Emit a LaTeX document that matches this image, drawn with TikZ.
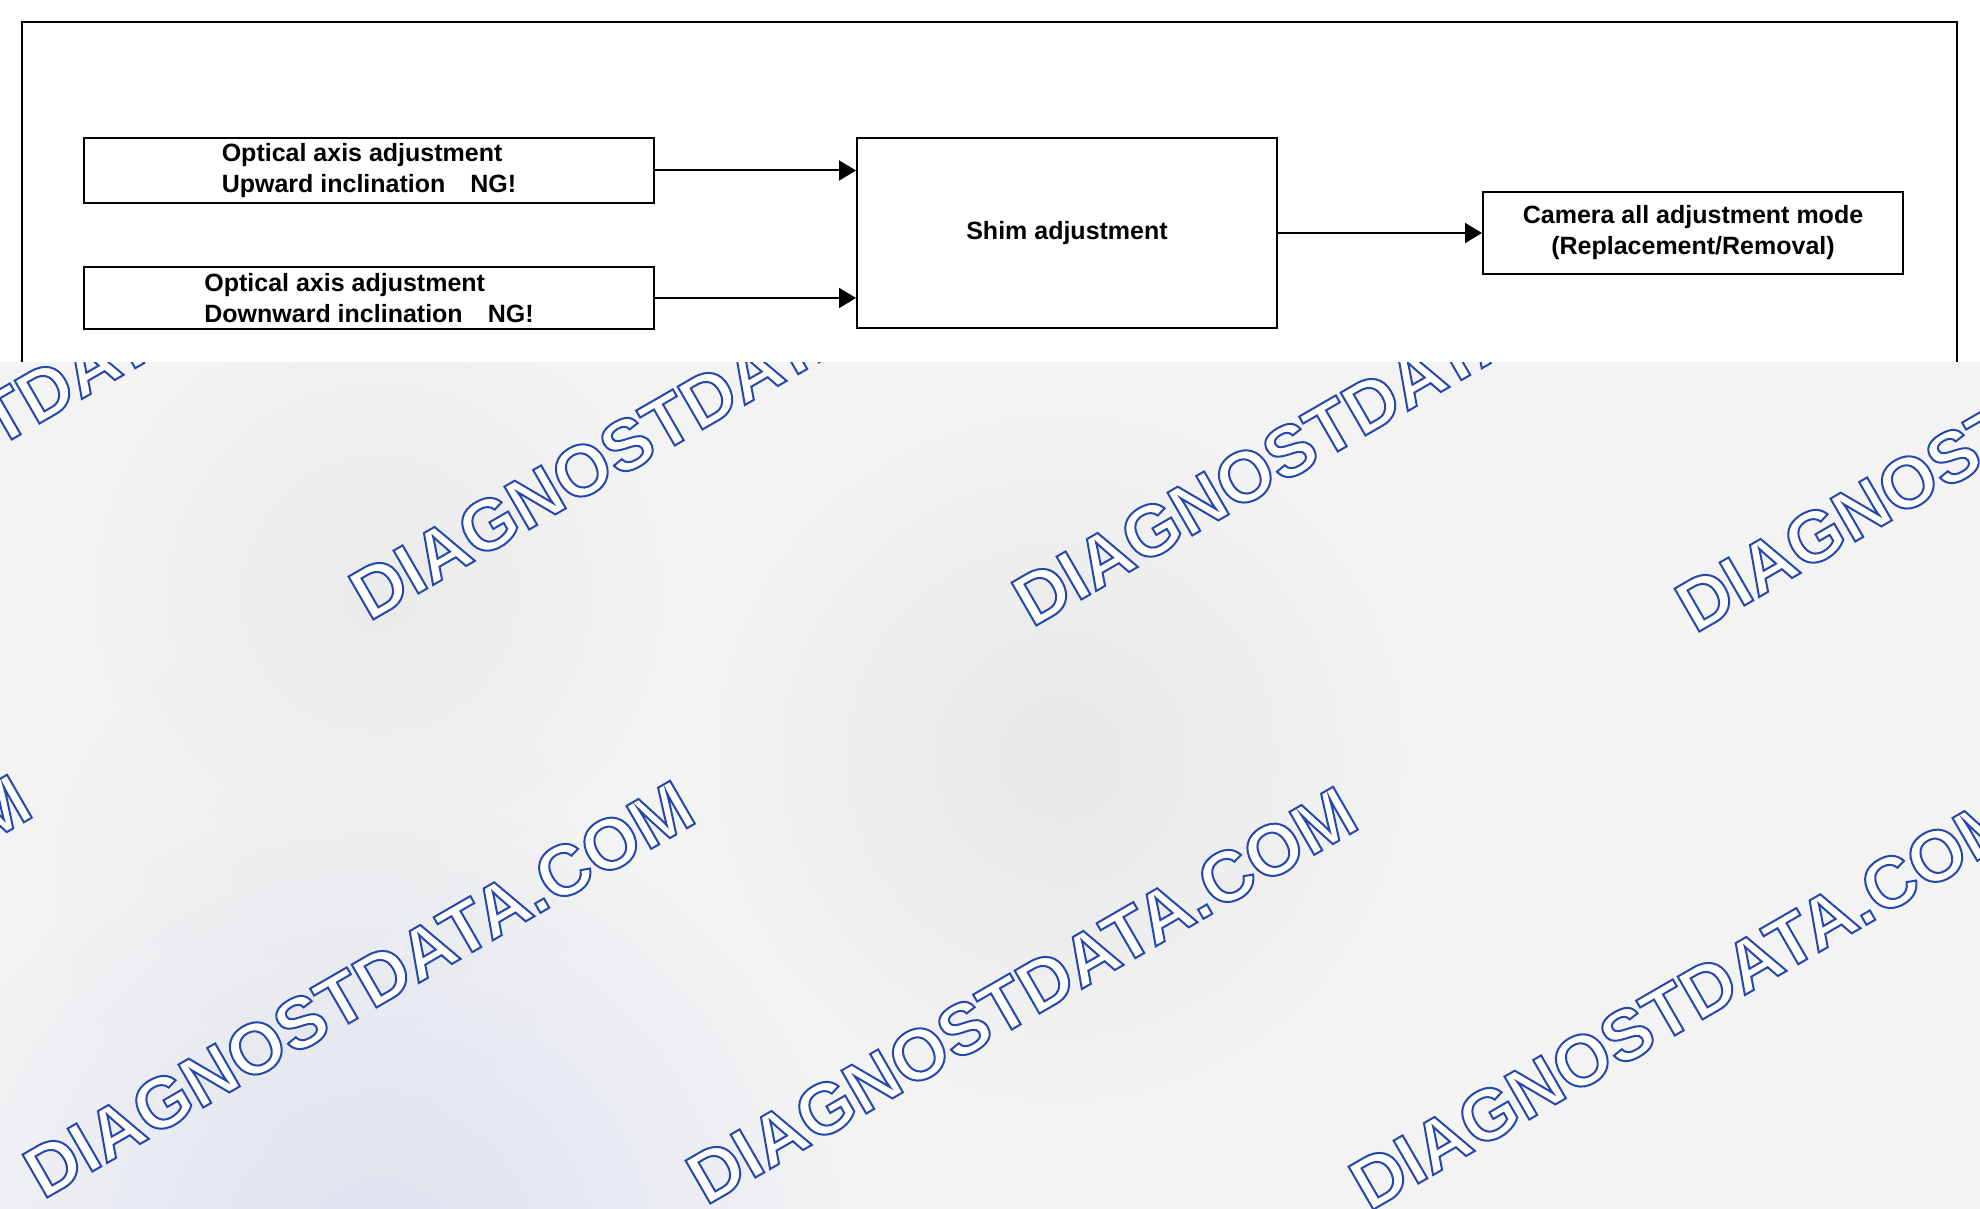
\documentclass[tikz,border=0pt]{standalone}
\usepackage{fontspec}
\setmainfont{Liberation Sans}
\usetikzlibrary{arrows.meta,fadings}
\definecolor{azulmarca}{RGB}{38,72,172}
\definecolor{fondo}{RGB}{243,243,244}
\definecolor{azulfondo}{RGB}{221,226,240}
\tikzfading[name=mancha, inner color=transparent!0, outer color=transparent!100]
% texto hueco: relleno blanco y trazo azul
\newcommand{\hueco}[1]{\special{pdf:literal direct 0.149 0.282 0.675 RG 2 Tr 2 w}#1\special{pdf:literal direct 0 Tr}}
\begin{document}
\begin{tikzpicture}[x=1pt,y=-1pt]
\tikzset{
    caja/.style={draw, line width=2pt, inner sep=0pt, font=\bfseries\fontsize{25}{31}\selectfont},
    flecha/.style={line width=2pt, -{Triangle[length=17pt,width=20pt]}},
    marca/.style={rotate=30, anchor=base west, inner sep=0pt, text=white, font=\bfseries\fontsize{72}{72}\selectfont}
}
\useasboundingbox (0,0) rectangle (1980,1209);
% fondo gris de la parte baja
\fill[fondo] (0,362) rectangle (1980,1209);
\fill[black!8, path fading=mancha] (379,594) circle (280);
\fill[black!9, path fading=mancha] (1061,758) circle (340);
\fill[black!6, path fading=mancha] (316,884) circle (260);
\fill[azulfondo, path fading=mancha] (380,1260) circle (460);
\fill[black!4, path fading=mancha] (1600,520) circle (230);
% marcas de agua
\foreach \px/\py in {-294/616, 369/622, 1032/628, 1695/634, -620/1194, 43/1200, 706/1206, 1369/1212}
    \node[marca] at (\px,\py) {\hueco{DIAGNOSTDATA.COM}};
% parte alta
\fill[white] (0,0) rectangle (1980,362);
\draw[line width=2pt] (22,362) -- (22,22) -- (1957,22) -- (1957,362);
\node[caja, minimum width=570pt, minimum height=65pt, align=left] (ejeArriba) at (369,170.5) {Optical axis adjustment\\Upward inclination\quad NG!};
\node[caja, minimum width=570pt, minimum height=62pt, align=left] (ejeAbajo) at (369,298) {Optical axis adjustment\\Downward inclination\quad NG!};
\node[caja, minimum width=420pt, minimum height=190pt] (calce) at (1067,233) {Shim adjustment};
\node[caja, minimum width=420pt, minimum height=82pt, align=center] (camara) at (1693,233) {Camera all adjustment mode\\(Replacement/Removal)};
\draw[flecha] (ejeArriba.east) -- (ejeArriba.east -| calce.west);
\draw[flecha] (ejeAbajo.east) -- (ejeAbajo.east -| calce.west);
\draw[flecha] (calce.east) -- (camara.west);
\end{tikzpicture}
\end{document}
